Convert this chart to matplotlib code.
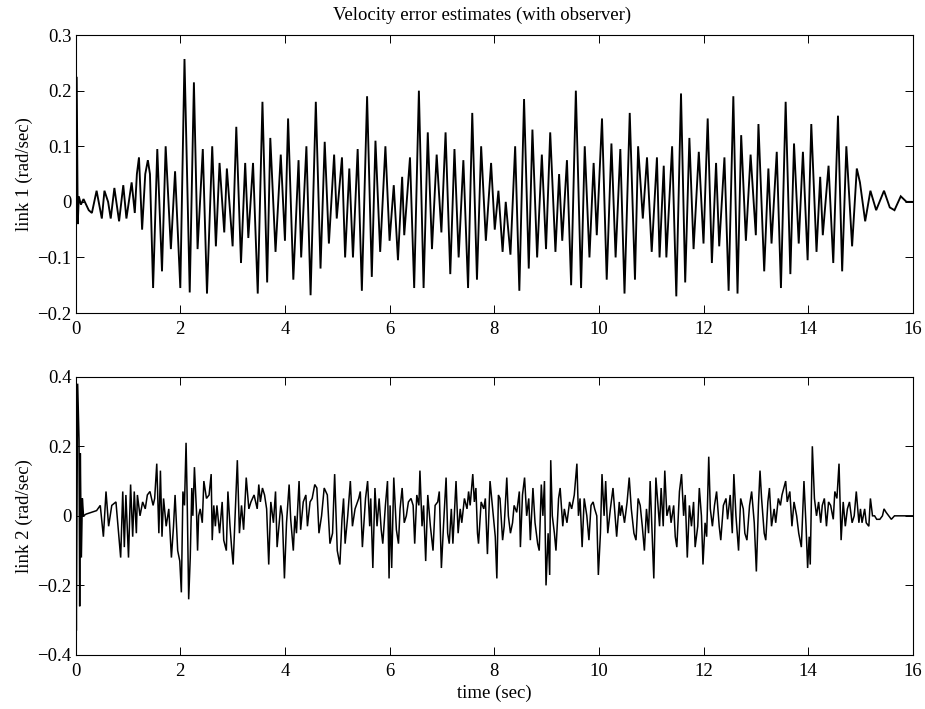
import matplotlib
matplotlib.use("Agg")
import matplotlib.pyplot as plt

plt.rcParams['font.family'] = ['Liberation Serif', 'DejaVu Serif']

# ---- data: link 1 (top) ----
t1 = [0.00, 0.02, 0.04, 0.06, 0.10, 0.15, 0.25, 0.31, 0.40, 0.50,
      0.55, 0.62, 0.67, 0.74, 0.83, 0.91, 0.97, 1.07, 1.13, 1.17,
      1.21, 1.27, 1.33, 1.38, 1.42, 1.48, 1.56, 1.65, 1.72, 1.82,
      1.90, 2.00, 2.08, 2.18, 2.26, 2.33, 2.43, 2.51, 2.61, 2.68,
      2.75, 2.84, 2.89, 3.00, 3.07, 3.16, 3.24, 3.30, 3.39, 3.48,
      3.57, 3.66, 3.72, 3.82, 3.92, 4.00, 4.06, 4.16, 4.26, 4.31,
      4.41, 4.49, 4.59, 4.68, 4.76, 4.84, 4.94, 4.99, 5.09, 5.15,
      5.23, 5.30, 5.39, 5.47, 5.57, 5.66, 5.73, 5.82, 5.92, 6.00,
      6.08, 6.16, 6.24, 6.28, 6.39, 6.47, 6.56, 6.65, 6.73, 6.81,
      6.90, 6.99, 7.07, 7.16, 7.24, 7.32, 7.41, 7.50, 7.58, 7.67,
      7.75, 7.84, 7.94, 8.01, 8.08, 8.16, 8.22, 8.31, 8.40, 8.48,
      8.57, 8.66, 8.73, 8.82, 8.91, 8.99, 9.07, 9.17, 9.24, 9.30,
      9.39, 9.47, 9.56, 9.66, 9.73, 9.82, 9.90, 9.96, 10.06, 10.15,
      10.24, 10.32, 10.41, 10.49, 10.59, 10.69, 10.75, 10.84, 10.92, 11.01,
      11.11, 11.16, 11.24, 11.29, 11.40, 11.48, 11.57, 11.65, 11.73, 11.81,
      11.91, 12.00, 12.08, 12.16, 12.24, 12.30, 12.40, 12.48, 12.57, 12.65,
      12.72, 12.81, 12.90, 13.00, 13.05, 13.16, 13.24, 13.30, 13.40, 13.48,
      13.57, 13.66, 13.73, 13.82, 13.90, 13.99, 14.06, 14.16, 14.23, 14.28,
      14.39, 14.48, 14.57, 14.65, 14.73, 14.84, 14.93, 14.99, 15.09, 15.19,
      15.30, 15.45, 15.56, 15.65, 15.77, 15.88, 16.00]
v1 = [0.0, 0.225, -0.04, 0.01, -0.005, 0.005, -0.015, -0.02, 0.02, -0.03,
      0.02, 0.0, -0.03, 0.025, -0.035, 0.03, -0.03, 0.035, -0.02, 0.05,
      0.08, -0.05, 0.05, 0.075, 0.05, -0.155, 0.095, -0.125, 0.10, -0.085,
      0.055, -0.155, 0.257, -0.163, 0.215, -0.085, 0.095, -0.165, 0.10, -0.08,
      0.07, -0.055, 0.06, -0.08, 0.135, -0.11, 0.07, -0.065, 0.07, -0.165,
      0.18, -0.145, 0.115, -0.09, 0.085, -0.07, 0.15, -0.14, 0.075, -0.10,
      0.10, -0.168, 0.18, -0.12, 0.108, -0.075, 0.085, -0.03, 0.08, -0.10,
      0.06, -0.10, 0.095, -0.16, 0.19, -0.135, 0.11, -0.09, 0.10, -0.07,
      0.03, -0.105, 0.045, -0.06, 0.08, -0.155, 0.20, -0.155, 0.125, -0.085,
      0.085, -0.055, 0.125, -0.13, 0.095, -0.10, 0.075, -0.155, 0.16, -0.14,
      0.10, -0.07, 0.07, -0.05, 0.02, -0.09, 0.0, -0.095, 0.10, -0.16,
      0.185, -0.12, 0.13, -0.10, 0.085, -0.085, 0.125, -0.09, 0.05, -0.07,
      0.075, -0.15, 0.20, -0.155, 0.10, -0.10, 0.07, -0.06, 0.15, -0.14,
      0.105, -0.10, 0.095, -0.165, 0.16, -0.14, 0.10, -0.03, 0.08, -0.09,
      0.08, -0.10, 0.065, -0.10, 0.10, -0.17, 0.195, -0.145, 0.115, -0.085,
      0.09, -0.075, 0.15, -0.11, 0.07, -0.08, 0.08, -0.16, 0.19, -0.165,
      0.12, -0.07, 0.085, -0.06, 0.14, -0.125, 0.06, -0.075, 0.09, -0.155,
      0.18, -0.13, 0.105, -0.075, 0.09, -0.105, 0.14, -0.09, 0.045, -0.06,
      0.065, -0.11, 0.155, -0.125, 0.10, -0.08, 0.06, 0.035, -0.035, 0.02,
      -0.015, 0.02, -0.01, -0.015, 0.01, 0.0, 0.0]

# ---- data: link 2 (bottom) ----
t2 = [0.00, 0.013, 0.038, 0.064, 0.077, 0.089, 0.109, 0.128, 0.15, 0.20,
      0.30, 0.40, 0.47, 0.53, 0.58, 0.63, 0.69, 0.77, 0.82, 0.86,
      0.90, 0.93, 0.96, 1.01, 1.05, 1.09, 1.12, 1.16, 1.18, 1.23,
      1.28, 1.33, 1.37, 1.42, 1.48, 1.51, 1.55, 1.59, 1.62, 1.65,
      1.68, 1.73, 1.78, 1.83, 1.87, 1.90, 1.95, 1.99, 2.02, 2.05,
      2.08, 2.11, 2.13, 2.16, 2.19, 2.22, 2.24, 2.27, 2.31, 2.33,
      2.35, 2.38, 2.42, 2.45, 2.50, 2.55, 2.59, 2.61, 2.64, 2.67,
      2.70, 2.75, 2.80, 2.83, 2.88, 2.91, 2.95, 2.98, 3.01, 3.04,
      3.09, 3.13, 3.17, 3.21, 3.26, 3.31, 3.35, 3.41, 3.47, 3.50,
      3.53, 3.57, 3.61, 3.65, 3.69, 3.73, 3.78, 3.82, 3.85, 3.92,
      3.95, 3.99, 4.03, 4.08, 4.11, 4.16, 4.19, 4.22, 4.27, 4.30,
      4.35, 4.40, 4.43, 4.48, 4.52, 4.57, 4.61, 4.65, 4.70, 4.75,
      4.81, 4.86, 4.91, 4.95, 5.00, 5.05, 5.09, 5.12, 5.15, 5.20,
      5.25, 5.29, 5.34, 5.41, 5.44, 5.48, 5.54, 5.58, 5.62, 5.64,
      5.68, 5.72, 5.76, 5.80, 5.84, 5.87, 5.92, 5.96, 5.99, 6.01,
      6.04, 6.08, 6.13, 6.17, 6.20, 6.24, 6.28, 6.32, 6.36, 6.41,
      6.45, 6.48, 6.52, 6.56, 6.58, 6.62, 6.65, 6.69, 6.73, 6.78,
      6.83, 6.87, 6.92, 6.95, 6.99, 7.03, 7.08, 7.11, 7.14, 7.18,
      7.21, 7.27, 7.31, 7.35, 7.38, 7.43, 7.48, 7.51, 7.54, 7.59,
      7.62, 7.65, 7.68, 7.70, 7.75, 7.80, 7.83, 7.87, 7.92, 7.97,
      8.02, 8.05, 8.08, 8.11, 8.16, 8.19, 8.24, 8.27, 8.31, 8.35,
      8.38, 8.43, 8.48, 8.50, 8.54, 8.58, 8.62, 8.66, 8.69, 8.74,
      8.78, 8.83, 8.86, 8.90, 8.93, 8.96, 8.99, 9.03, 9.06, 9.08,
      9.11, 9.15, 9.18, 9.23, 9.26, 9.31, 9.34, 9.39, 9.44, 9.48,
      9.53, 9.58, 9.61, 9.64, 9.68, 9.72, 9.77, 9.81, 9.85, 9.89,
      9.92, 9.96, 9.99, 10.03, 10.06, 10.10, 10.13, 10.17, 10.22, 10.27,
      10.31, 10.34, 10.39, 10.41, 10.44, 10.49, 10.54, 10.58, 10.62, 10.67,
      10.71, 10.75, 10.79, 10.83, 10.87, 10.91, 10.95, 10.98, 11.02, 11.05,
      11.09, 11.12, 11.16, 11.19, 11.23, 11.26, 11.30, 11.35, 11.38, 11.43,
      11.46, 11.49, 11.54, 11.58, 11.62, 11.65, 11.69, 11.73, 11.77, 11.81,
      11.84, 11.89, 11.92, 11.96, 11.99, 12.03, 12.06, 12.10, 12.13, 12.17,
      12.21, 12.25, 12.30, 12.33, 12.38, 12.43, 12.46, 12.51, 12.55, 12.58,
      12.62, 12.67, 12.71, 12.76, 12.79, 12.83, 12.88, 12.92, 12.97, 13.01,
      13.05, 13.08, 13.11, 13.16, 13.19, 13.23, 13.26, 13.30, 13.35, 13.38,
      13.43, 13.47, 13.50, 13.57, 13.60, 13.65, 13.69, 13.73, 13.78, 13.82,
      13.87, 13.92, 13.96, 13.99, 14.02, 14.04, 14.08, 14.12, 14.16, 14.20,
      14.24, 14.27, 14.31, 14.35, 14.39, 14.43, 14.48, 14.51, 14.55, 14.59,
      14.63, 14.67, 14.71, 14.75, 14.79, 14.84, 14.88, 14.92, 14.97, 15.00,
      15.03, 15.08, 15.11, 15.16, 15.19, 15.23, 15.27, 15.31, 15.37, 15.42,
      15.45, 15.49, 15.54, 15.59, 15.65, 15.75, 15.87, 16.00]
v2 = [0.0, -0.33, 0.38, 0.22, -0.26, 0.18, -0.12, 0.05, 0.0, 0.005,
      0.01, 0.015, 0.03, -0.06, 0.07, -0.03, 0.03, 0.04, -0.05, -0.12,
      0.07, -0.09, 0.06, -0.12, 0.09, -0.06, 0.07, -0.05, 0.06, 0.0,
      0.04, 0.02, 0.06, 0.07, 0.03, 0.05, 0.15, -0.05, 0.13, -0.06,
      0.05, -0.03, 0.02, -0.12, -0.03, 0.06, -0.10, -0.13, -0.22, 0.07,
      0.03, 0.21, 0.06, -0.24, -0.12, 0.08, 0.0, 0.14, 0.01, -0.10,
      0.0, 0.02, -0.02, 0.10, 0.05, 0.06, 0.12, -0.07, 0.03, -0.03,
      0.03, -0.05, 0.04, -0.07, -0.10, 0.07, -0.03, -0.09, -0.14, -0.03,
      0.16, -0.05, 0.03, -0.04, 0.11, 0.02, 0.04, 0.06, 0.02, 0.09,
      0.04, 0.08, 0.06, 0.02, -0.14, 0.04, -0.02, 0.07, -0.09, 0.03,
      0.0, -0.18, -0.02, 0.09, -0.01, -0.10, 0.0, -0.05, 0.10, -0.04,
      0.04, 0.06, -0.03, 0.04, 0.05, 0.09, 0.08, -0.05, 0.0, 0.08,
      0.06, -0.08, -0.05, 0.12, -0.10, -0.14, -0.01, 0.05, -0.08, 0.0,
      0.10, -0.03, 0.02, 0.05, 0.07, -0.09, 0.05, 0.10, -0.03, 0.05,
      -0.15, 0.08, -0.03, 0.05, -0.04, -0.08, 0.03, 0.10, -0.18, 0.03,
      -0.15, 0.11, -0.04, -0.08, 0.02, 0.08, -0.02, 0.0, 0.04, 0.05,
      0.03, -0.08, 0.06, 0.03, 0.13, -0.03, 0.03, -0.13, 0.06, -0.03,
      -0.10, 0.03, 0.04, 0.07, -0.15, -0.03, 0.11, -0.05, -0.08, 0.02,
      -0.08, 0.10, -0.05, 0.02, -0.02, 0.05, 0.02, 0.07, 0.03, 0.12,
      0.04, 0.08, -0.05, -0.08, 0.04, 0.02, 0.05, -0.11, 0.10, 0.02,
      -0.06, -0.18, 0.06, 0.05, -0.07, -0.03, 0.11, 0.0, -0.05, -0.02,
      0.03, 0.01, 0.07, -0.09, 0.06, 0.11, 0.0, 0.05, -0.07, 0.08,
      -0.02, -0.08, -0.10, 0.09, 0.0, 0.10, -0.20, -0.05, -0.17, 0.16,
      0.0, -0.05, -0.10, 0.05, 0.08, -0.03, 0.02, -0.02, 0.04, 0.02,
      0.06, 0.15, 0.0, 0.05, -0.09, 0.05, 0.0, -0.07, 0.03, 0.04,
      0.02, 0.0, -0.17, -0.05, 0.12, 0.0, 0.10, -0.05, 0.02, 0.08,
      0.0, -0.06, 0.04, 0.0, 0.03, -0.02, 0.04, 0.11, 0.02, -0.05,
      -0.07, 0.05, 0.03, -0.03, -0.10, 0.02, -0.05, 0.10, -0.06, -0.18,
      0.11, 0.05, -0.03, 0.08, -0.03, 0.13, 0.0, 0.03, -0.02, 0.03,
      -0.06, -0.09, 0.07, 0.12, 0.0, 0.06, -0.12, 0.03, -0.03, 0.04,
      -0.09, -0.03, 0.08, 0.0, -0.14, -0.02, -0.06, 0.17, 0.02, -0.03,
      0.03, 0.07, -0.03, -0.07, 0.03, 0.05, -0.01, 0.06, -0.05, 0.12,
      0.0, -0.10, 0.05, 0.02, -0.05, -0.07, 0.03, 0.07, -0.02, -0.16,
      0.03, 0.13, 0.05, -0.05, -0.07, 0.04, 0.08, -0.03, 0.02, -0.02,
      0.05, 0.03, 0.06, 0.10, 0.04, 0.07, -0.03, 0.04, 0.0, -0.05,
      -0.09, 0.10, -0.03, -0.15, -0.06, -0.14, 0.20, 0.05, 0.0, 0.04,
      -0.02, 0.03, 0.05, -0.03, 0.04, 0.03, -0.01, 0.07, 0.05, 0.15,
      -0.07, 0.04, -0.03, 0.02, 0.04, -0.02, 0.0, 0.07, -0.02, 0.02,
      -0.02, 0.02, -0.02, -0.03, 0.05, 0.0, 0.0, -0.01, -0.01, 0.0,
      0.02, 0.01, 0.0, -0.01, 0.0, 0.0, 0.0, 0.0]

# ---- axes labels / ticks ----
x_ticks = [0, 2, 4, 6, 8, 10, 12, 14, 16]
x_labels = ['0', '2', '4', '6', '8', '10', '12', '14', '16']
y1_ticks = [-0.2, -0.1, 0, 0.1, 0.2, 0.3]
y1_labels = ['\u22120.2', '\u22120.1', '0', '0.1', '0.2', '0.3']
y2_ticks = [-0.4, -0.2, 0, 0.2, 0.4]
y2_labels = ['\u22120.4', '\u22120.2', '0', '0.2', '0.4']

title = 'Velocity error estimates (with observer)'
ylabel1 = 'link 1 (rad/sec)'
ylabel2 = 'link 2 (rad/sec)'
xlabel = 'time (sec)'

fig = plt.figure(figsize=(9.25, 7.09), dpi=100)
ax1 = fig.add_axes([0.0818, 0.5585, 0.905, 0.392])
ax2 = fig.add_axes([0.0818, 0.0762, 0.905, 0.3925])

fs = 13.5
for ax, t, v, yt, yl, ylab, lw in [(ax1, t1, v1, y1_ticks, y1_labels, ylabel1, 1.35),
                                   (ax2, t2, v2, y2_ticks, y2_labels, ylabel2, 1.1)]:
    ax.plot(t, v, color='black', lw=lw, solid_joinstyle='miter')
    ax.set_xlim(0, 16)
    ax.set_ylim(yt[0], yt[-1])
    ax.set_xticks(x_ticks, x_labels)
    ax.set_yticks(yt, yl)
    ax.tick_params(direction='in', top=True, right=True, length=6,
                   width=0.7, labelsize=fs)
    ax.tick_params(axis='x', pad=6)
    ax.tick_params(axis='y', pad=3)
    for s in ax.spines.values():
        s.set_linewidth(0.8)
    ax.set_ylabel(ylab, fontsize=fs, labelpad=3)

ax1.set_title(title, fontsize=fs, pad=11, x=0.486)
ax2.set_xlabel(xlabel, fontsize=fs, labelpad=3)

fig.savefig('out.png', dpi=100)
